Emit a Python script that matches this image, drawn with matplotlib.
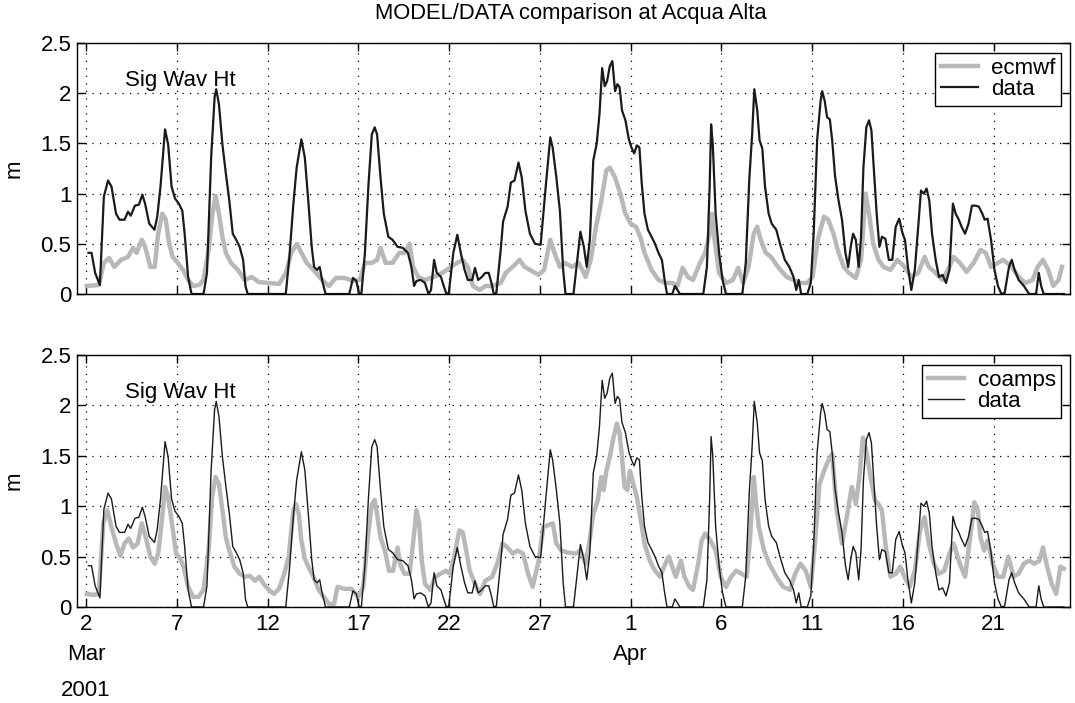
import numpy as np
import pandas as pd
import matplotlib
matplotlib.use("Agg")
import matplotlib.pyplot as plt

plt.rcParams['font.family'] = ['Liberation Sans', 'DejaVu Sans']

# times are in days counted so that 2 -> 2 Mar 2001 (1 -> 1 Mar)
data_day = [2.13, 2.3, 2.5, 2.76, 2.98, 3.21, 3.4, 3.65, 3.84, 4.12, 4.31, 4.46, 4.69, 4.91, 5.1, 5.25,
            5.48, 5.77, 5.92, 6.1, 6.35, 6.52, 6.71, 6.9, 7.11, 7.3, 7.43, 7.62, 7.81, 8.47, 8.66, 8.89,
            9.08, 9.17, 9.32, 9.51, 9.7, 9.89, 10.08, 10.27, 10.46, 10.65, 10.78, 10.9, 13.0, 13.2, 13.42,
            13.6, 13.86, 14.05, 14.24, 14.43, 14.56, 14.72, 14.87, 15.0, 15.19, 16.5, 16.7, 16.89, 17.04,
            17.17, 17.36, 17.55, 17.74, 17.9, 18.03, 18.22, 18.4, 18.65, 18.88, 19.16, 19.44, 19.73, 19.92,
            20.07, 20.2, 20.43, 20.67, 20.86, 21.0, 21.17, 21.32, 21.55, 21.7, 21.85, 21.98, 22.23, 22.45,
            22.64, 22.85, 23.03, 23.27, 23.42, 23.6, 23.8, 23.99, 24.18, 24.33, 24.46, 24.6, 24.84, 24.97,
            25.22, 25.4, 25.6, 25.82, 26.0, 26.2, 26.45, 26.73, 27.04, 27.32, 27.57, 27.7, 27.9, 28.1,
            28.28, 28.41, 28.85, 29.04, 29.23, 29.42, 29.58, 29.75, 29.94, 30.13, 30.28, 30.43, 30.57,
            30.7, 30.85, 30.99, 31.14, 31.27, 31.39, 31.52, 31.71, 31.9, 32.04, 32.19, 32.34, 32.48, 32.61,
            32.76, 32.95, 33.15, 33.34, 33.53, 33.72, 33.87, 34.0, 34.29, 34.44, 34.58, 34.71, 36.0, 36.2,
            36.35, 36.43, 36.52, 36.68, 36.87, 37.06, 37.25, 38.15, 38.34, 38.53, 38.69, 38.81, 38.97,
            39.1, 39.25, 39.4, 39.6, 39.77, 40.02, 40.24, 40.49, 40.74, 40.97, 41.12, 41.26, 41.39, 41.73,
            41.92, 42.08, 42.27, 42.46, 42.55, 42.69, 42.82, 42.97, 43.1, 43.26, 43.45, 43.64, 43.83,
            43.98, 44.12, 44.25, 44.4, 44.56, 44.69, 44.82, 44.98, 45.13, 45.26, 45.4, 45.55, 45.7, 45.84,
            46.03, 46.22, 46.41, 46.6, 46.79, 46.98, 47.11, 47.27, 47.46, 47.65, 47.84, 47.99, 48.15,
            48.3, 48.45, 48.6, 48.8, 48.98, 49.18, 49.37, 49.56, 49.75, 49.9, 50.05, 50.23, 50.42, 50.61,
            50.8, 50.99, 51.18, 51.37, 51.5, 51.66, 51.85, 52.04, 52.23, 52.42, 52.6, 52.84, 52.99, 53.15,
            53.37, 53.66, 53.95, 54.33, 54.48, 54.61, 54.75, 55.86]
data_hs = [0.41, 0.41, 0.21, 0.09, 0.97, 1.13, 1.07, 0.80, 0.74, 0.74, 0.82, 0.78, 0.88, 0.89, 0.99, 0.90,
           0.70, 0.64, 0.77, 1.07, 1.64, 1.49, 1.07, 0.95, 0.90, 0.83, 0.60, 0.17, 0.0, 0.0, 0.21, 1.36,
           1.96, 2.04, 1.89, 1.49, 1.20, 0.93, 0.60, 0.54, 0.47, 0.34, 0.08, 0.0, 0.0, 0.37, 0.90,
           1.26, 1.54, 1.36, 0.93, 0.47, 0.27, 0.24, 0.27, 0.14, 0.0, 0.0, 0.16, 0.13, 0.0,
           0.01, 0.41, 1.07, 1.59, 1.66, 1.59, 1.16, 0.80, 0.57, 0.54, 0.47, 0.46, 0.41, 0.27,
           0.08, 0.13, 0.14, 0.11, 0.0, 0.04, 0.34, 0.21, 0.17, 0.08, 0.0, 0.01, 0.41, 0.59,
           0.41, 0.24, 0.14, 0.14, 0.26, 0.14, 0.17, 0.21, 0.21, 0.11, 0.0, 0.01, 0.44, 0.72,
           0.87, 1.11, 1.13, 1.31, 1.16, 0.83, 0.60, 0.50, 0.49, 1.07, 1.56, 1.46, 1.17, 0.83,
           0.24, 0.0, 0.0, 0.31, 0.62, 0.47, 0.27, 0.54, 1.33, 1.50, 1.79, 2.25, 2.07,
           2.12, 2.27, 2.32, 2.02, 2.09, 2.06, 1.83, 1.73, 1.54, 1.46, 1.40, 1.48, 1.46, 1.10,
           0.80, 0.64, 0.57, 0.50, 0.41, 0.34, 0.14, 0.0, 0.0, 0.08, 0.04, 0.0, 0.0, 0.27,
           1.07, 1.69, 1.50, 0.80, 0.41, 0.14, 0.0, 0.0, 0.31, 1.13, 1.59, 2.04, 1.83,
           1.53, 1.45, 1.07, 0.80, 0.70, 0.64, 0.49, 0.34, 0.27, 0.17, 0.04, 0.14, 0.0, 0.0,
           0.11, 0.60, 1.53, 1.92, 2.02, 1.92, 1.76, 1.74, 1.53, 1.17, 0.93, 0.74, 0.41,
           0.27, 0.47, 0.60, 0.54, 0.27, 0.57, 1.26, 1.66, 1.73, 1.63, 1.23, 0.80, 0.47, 0.57,
           0.55, 0.34, 0.34, 0.67, 0.75, 0.60, 0.54, 0.27, 0.04, 0.24, 0.67, 1.03, 1.00,
           1.05, 0.93, 0.60, 0.34, 0.17, 0.19, 0.11, 0.24, 0.90, 0.80, 0.75, 0.67, 0.60, 0.70,
           0.88, 0.88, 0.87, 0.80, 0.74, 0.75, 0.54, 0.24, 0.08, 0.0, 0.01, 0.27, 0.34, 0.24,
           0.14, 0.08, 0.0, 0.0, 0.21, 0.08, 0.0, 0.0]

ecmwf_day = [2.04, 2.7, 2.98, 3.27, 3.55, 3.93, 4.31, 4.59, 4.78, 5.07, 5.25, 5.54, 5.78, 5.97, 6.2, 6.39,
             6.58, 6.77, 7.05, 7.34, 7.62, 7.9, 8.24, 8.47, 8.75, 8.94, 9.13, 9.32, 9.51, 9.7, 9.98, 10.36,
             10.74, 11.12, 11.5, 12.07, 12.63, 13.01, 13.3, 13.62, 13.86, 14.15, 14.53, 15.0, 15.38, 15.76,
             16.23, 16.7, 17.08, 17.36, 17.74, 18.03, 18.22, 18.5, 18.88, 19.26, 19.54, 19.82, 20.01, 20.3,
             20.67, 21.14, 21.62, 22.09, 22.45, 22.74, 23.03, 23.31, 23.69, 23.99, 24.37, 24.84, 25.12,
             25.5, 25.88, 26.16, 26.64, 26.92, 27.23, 27.57, 27.8, 28.1, 28.37, 28.76, 29.14, 29.52, 29.8,
             30.09, 30.38, 30.66, 30.85, 31.14, 31.43, 31.71, 32.0, 32.29, 32.53, 32.76, 33.15, 33.53,
             33.91, 34.29, 34.58, 34.86, 35.15, 35.43, 35.82, 36.1, 36.35, 36.48, 36.62, 36.87, 37.25,
             37.63, 37.92, 38.2, 38.49, 38.78, 38.97, 39.16, 39.44, 39.73, 40.11, 40.59, 40.97, 41.35,
             41.73, 42.02, 42.31, 42.65, 42.88, 43.17, 43.45, 43.74, 44.02, 44.4, 44.69, 44.94, 45.13,
             45.36, 45.65, 45.93, 46.31, 46.69, 47.08, 47.46, 47.84, 48.19, 48.42, 48.8, 49.18, 49.56,
             49.79, 50.13, 50.51, 50.89, 51.27, 51.56, 51.85, 52.23, 52.52, 52.99, 53.37, 53.75, 54.14,
             54.42, 54.71, 55.0, 55.28, 55.57, 55.76]
ecmwf_hs = [0.08, 0.09, 0.31, 0.36, 0.27, 0.34, 0.37, 0.46, 0.41, 0.54, 0.47, 0.27, 0.27, 0.60, 0.80, 0.74,
            0.50, 0.37, 0.31, 0.24, 0.14, 0.08, 0.09, 0.14, 0.44, 0.77, 0.98, 0.80, 0.57, 0.41, 0.31, 0.24,
            0.14, 0.17, 0.12, 0.11, 0.10, 0.21, 0.41, 0.50, 0.41, 0.31, 0.24, 0.14, 0.08, 0.16,
            0.16, 0.13, 0.14, 0.31, 0.31, 0.34, 0.46, 0.31, 0.31, 0.41, 0.41, 0.50, 0.27, 0.17,
            0.14, 0.17, 0.21, 0.27, 0.31, 0.34, 0.27, 0.08, 0.04, 0.08, 0.08, 0.11, 0.21,
            0.27, 0.34, 0.27, 0.22, 0.19, 0.24, 0.54, 0.41, 0.27, 0.31, 0.27, 0.31, 0.17, 0.34,
            0.67, 0.93, 1.23, 1.26, 1.16, 1.00, 0.80, 0.70, 0.67, 0.57, 0.41, 0.24, 0.14,
            0.11, 0.11, 0.08, 0.26, 0.17, 0.14, 0.31, 0.41, 0.60, 0.80, 0.54, 0.21, 0.11,
            0.14, 0.26, 0.11, 0.27, 0.60, 0.67, 0.54, 0.41, 0.37, 0.27, 0.17, 0.14, 0.11,
            0.11, 0.17, 0.54, 0.77, 0.74, 0.60, 0.41, 0.27, 0.21, 0.16, 0.34, 1.00, 0.80,
            0.50, 0.34, 0.27, 0.24, 0.34, 0.27, 0.17, 0.21, 0.37, 0.27, 0.21, 0.14, 0.27,
            0.37, 0.31, 0.22, 0.31, 0.44, 0.41, 0.27, 0.31, 0.34, 0.27, 0.17, 0.11, 0.14,
            0.27, 0.34, 0.24, 0.08, 0.14, 0.27]

coamps_day = [2.04, 2.42, 2.7, 2.95, 3.17, 3.4, 3.65, 3.89, 4.12, 4.35, 4.59, 4.84, 5.07, 5.29, 5.54, 5.78,
              5.97, 6.16, 6.35, 6.52, 6.73, 6.96, 7.18, 7.37, 7.62, 7.9, 8.19, 8.47, 8.75, 8.94, 9.13, 9.32,
              9.51, 9.7, 9.89, 10.17, 10.46, 10.74, 11.02, 11.31, 11.54, 11.78, 12.07, 12.35, 12.63, 12.92,
              13.16, 13.42, 13.57, 13.72, 13.86, 14.05, 14.24, 14.53, 14.81, 15.09, 15.38, 15.66, 15.85,
              16.23, 16.61, 17.0, 17.27, 17.52, 17.74, 17.9, 18.03, 18.22, 18.46, 18.69, 18.91, 19.16,
              19.29, 19.54, 19.82, 20.01, 20.2, 20.35, 20.49, 20.67, 20.96, 21.24, 21.53, 21.81, 22.05,
              22.28, 22.56, 22.75, 22.94, 23.13, 23.42, 23.7, 23.99, 24.37, 24.65, 24.94, 25.22, 25.5,
              25.78, 26.07, 26.35, 26.6, 26.92, 27.19, 27.42, 27.71, 27.9, 28.18, 28.56, 28.95, 29.23,
              29.52, 29.71, 29.94, 30.19, 30.38, 30.51, 30.66, 30.85, 31.05, 31.24, 31.39, 31.52, 31.66,
              31.81, 31.96, 32.15, 32.34, 32.53, 32.76, 33.05, 33.34, 33.62, 33.91, 34.1, 34.29, 34.48,
              34.77, 34.96, 35.24, 35.43, 35.72, 35.91, 36.1, 36.39, 36.68, 36.96, 37.25, 37.53, 37.82,
              38.11, 38.39, 38.58, 38.78, 38.91, 39.06, 39.35, 39.63, 40.02, 40.4, 40.78, 41.06, 41.35,
              41.64, 41.92, 42.15, 42.4, 42.65, 42.88, 43.1, 43.35, 43.64, 43.93, 44.18, 44.4, 44.6,
              44.79, 44.98, 45.21, 45.45, 45.65, 45.84, 46.03, 46.31, 46.6, 46.85, 47.08, 47.37, 47.65,
              47.94, 48.19, 48.42, 48.7, 48.98, 49.27, 49.56, 49.79, 50.13, 50.42, 50.7, 50.93, 51.12,
              51.27, 51.47, 51.66, 51.94, 52.23, 52.52, 52.8, 53.09, 53.37, 53.66, 53.95, 54.23, 54.52,
              54.71, 54.94, 55.19, 55.44, 55.67, 55.86]
coamps_hs = [0.13, 0.12, 0.13, 0.83, 0.96, 0.79, 0.63, 0.51, 0.63, 0.68, 0.59, 0.63, 0.83, 0.69, 0.50, 0.43,
             0.53, 0.83, 1.19, 1.09, 0.83, 0.53, 0.48, 0.40, 0.20, 0.10, 0.10, 0.17, 0.56, 1.09, 1.29, 1.22,
             0.96, 0.69, 0.56, 0.40, 0.33, 0.30, 0.31, 0.26, 0.30, 0.23, 0.17, 0.13, 0.18, 0.33,
             0.50, 0.96, 1.02, 0.92, 0.66, 0.48, 0.40, 0.30, 0.17, 0.10, 0.03, 0.03, 0.20,
             0.18, 0.18, 0.10, 0.20, 0.69, 1.02, 1.06, 0.92, 0.69, 0.56, 0.36, 0.36, 0.59,
             0.43, 0.33, 0.33, 0.63, 0.96, 0.83, 0.46, 0.23, 0.17, 0.30, 0.33, 0.36, 0.33,
             0.50, 0.76, 0.74, 0.56, 0.36, 0.23, 0.13, 0.26, 0.30, 0.43, 0.63, 0.59, 0.53,
             0.56, 0.53, 0.33, 0.20, 0.45, 0.79, 0.81, 0.83, 0.63, 0.56, 0.54, 0.53, 0.56,
             0.43, 0.63, 0.92, 1.06, 1.29, 1.16, 1.35, 1.49, 1.68, 1.82, 1.72, 1.49, 1.19,
             1.16, 1.35, 1.22, 1.09, 0.89, 0.63, 0.46, 0.36, 0.30, 0.43, 0.50, 0.40, 0.30,
             0.46, 0.30, 0.20, 0.17, 0.43, 0.66, 0.73, 0.66, 0.56, 0.30, 0.20, 0.30, 0.36,
             0.33, 0.30, 0.69, 1.29, 1.02, 0.79, 0.56, 0.43, 0.30, 0.20, 0.17, 0.33, 0.43,
             0.36, 0.20, 0.63, 1.22, 1.35, 1.45, 1.52, 0.96, 0.63, 0.92, 1.19, 1.02, 1.29,
             1.68, 1.55, 1.29, 1.06, 1.02, 0.96, 0.63, 0.30, 0.33, 0.40, 0.30, 0.20, 0.36,
             0.76, 0.89, 0.63, 0.43, 0.33, 0.36, 0.53, 0.63, 0.43, 0.30, 0.69, 1.04, 0.96,
             0.69, 0.56, 0.66, 0.43, 0.30, 0.30, 0.50, 0.30, 0.33, 0.43, 0.46, 0.43, 0.46,
             0.59, 0.40, 0.23, 0.13, 0.40, 0.38]

tick_days = [2, 7, 12, 17, 22, 27, 32, 37, 42, 47, 52]
tick_labels = ['2', '7', '12', '17', '22', '27', '1', '6', '11', '16', '21']
month_marks = [(2, 'Mar'), (32, 'Apr')]
x_range = (1.5, 56.2)

base = pd.Timestamp('2001-02-28')


def to_time(days):
    return base + pd.to_timedelta(np.asarray(days, dtype=float), unit='D')


gray = '#b8b8b8'
FS = 16
W, H = 1075, 703
fig = plt.figure(figsize=(W / 100, H / 100), dpi=100)


def px_axes(x0, y0, x1, y1):
    return fig.add_axes([x0 / W, 1 - y1 / H, (x1 - x0) / W, (y1 - y0) / H])


ax1 = px_axes(77, 43, 1070, 294)
ax2 = px_axes(77, 355, 1070, 607)

panels = [
    (ax1, ecmwf_day, ecmwf_hs, 'ecmwf', 1.6),
    (ax2, coamps_day, coamps_hs, 'coamps', 1.0),
]

for ax, mday, mval, mname, dlw in panels:
    ax.plot(to_time(mday), mval, color=gray, lw=3.2, label=mname, solid_joinstyle='round')
    ax.plot(to_time(data_day), data_hs, color='#1a1a1a', lw=dlw, label='data')
    ax.set_ylim(0, 2.5)
    ax.set_xlim(to_time(x_range[0]), to_time(x_range[1]))
    ax.set_yticks([0, 0.5, 1, 1.5, 2, 2.5])
    ax.set_yticklabels(['0', '0.5', '1', '1.5', '2', '2.5'])
    ax.set_xticks(to_time(tick_days))
    ax.grid(True, color='black', linestyle=(0, (1, 5)), lw=0.9)
    ax.tick_params(direction='in', length=6, width=1, top=True, right=True,
                   labelsize=FS)
    ax.tick_params(axis='y', pad=4)
    ax.tick_params(axis='x', pad=5)
    for s in ax.spines.values():
        s.set_linewidth(1.0)
    ax.set_ylabel('m', fontsize=FS)
    ax.yaxis.set_label_coords(-0.0526, 0.5)
    ax.text(to_time(4.15), 2.13, 'Sig Wav Ht', fontsize=FS, va='center', ha='left')
    leg = ax.legend(loc='upper right', fontsize=FS, frameon=True, fancybox=False,
                    edgecolor='black', framealpha=1, handlelength=1.65,
                    borderpad=0.25, labelspacing=0.0, handletextpad=0.6,
                    borderaxespad=0.0, bbox_to_anchor=(0.991, 0.962))
    leg.get_frame().set_linewidth(1.0)

ax1.set_xticklabels([])
ax2.set_xticklabels(tick_labels)

for d, name in month_marks:
    ax2.text(to_time(d), -0.19, name, transform=ax2.get_xaxis_transform(),
             ha='center', va='center', fontsize=FS)
ax2.text(to_time(2), -0.33, '2001', transform=ax2.get_xaxis_transform(),
         ha='center', va='center', fontsize=FS)

fig.text(571 / W, 1 - 13 / H, 'MODEL/DATA comparison at Acqua Alta',
         ha='center', va='center', fontsize=15.8)

fig.savefig('out.png', dpi=100)
